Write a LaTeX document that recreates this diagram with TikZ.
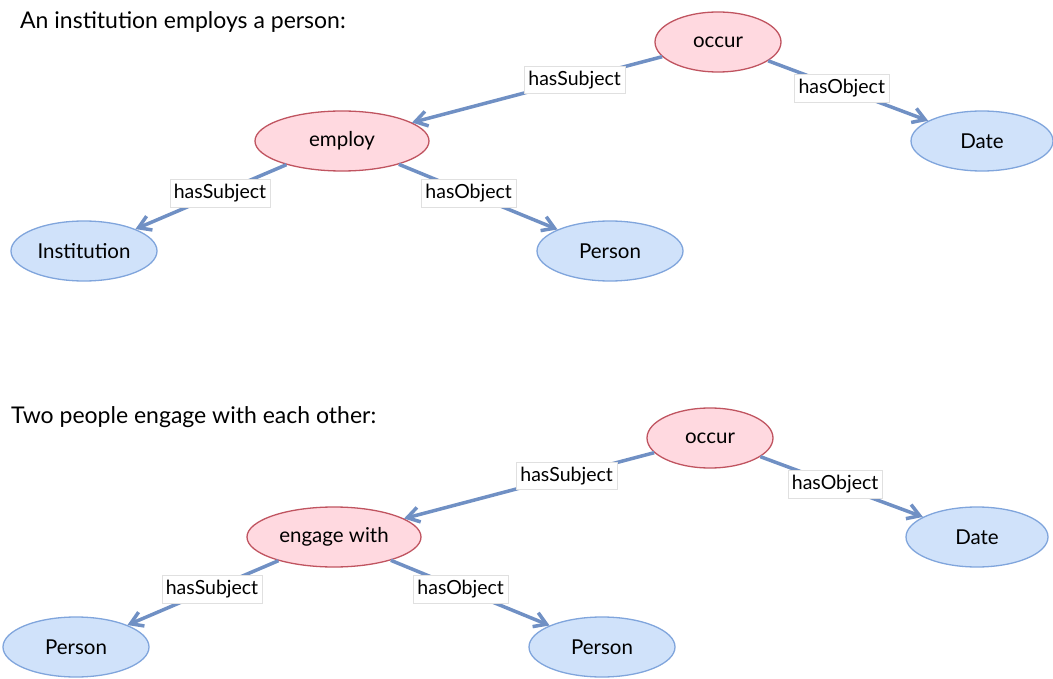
\documentclass[tikz,border=0pt]{standalone}
\usepackage{fontspec}
\setmainfont{Lato}
\usetikzlibrary{shapes.geometric,arrows.meta}
\definecolor{edgeblue}{RGB}{112,144,196}
\definecolor{relfill}{RGB}{255,217,224}
\definecolor{reldraw}{RGB}{192,84,96}
\definecolor{entfill}{RGB}{208,226,250}
\definecolor{entdraw}{RGB}{128,165,220}
\tikzset{
  relnode/.style={ellipse, draw=reldraw, fill=relfill, line width=1.3pt, inner sep=0pt,
    minimum height=60pt, font=\fontsize{20.5}{24}\selectfont},
  entnode/.style={ellipse, draw=entdraw, fill=entfill, line width=1.3pt, inner sep=0pt,
    minimum height=60pt, font=\fontsize{20.5}{24}\selectfont},
  link/.style={draw=edgeblue, line width=3.5pt, -{Straight Barb[length=12pt,width=15pt]}},
  lbl/.style={fill=white, draw=black!12, line width=0.5pt, inner xsep=4pt, inner ysep=5pt,
    font=\fontsize{19.5}{22}\selectfont},
  heading/.style={anchor=west, inner sep=0pt, font=\fontsize{23}{27}\selectfont}
}
\begin{document}
\begin{tikzpicture}[x=1pt,y=-1pt]
\useasboundingbox (0,0) rectangle (1053,679);

% first statement
\node[heading] (h1) at (20,22) {An institution employs a person:};
\node[relnode, minimum width=126pt] (occ1) at (718,42) {occur};
\node[relnode, minimum width=174pt] (emp) at (342,141) {employ};
\node[entnode, minimum width=142pt] (date1) at (982,141) {Date};
\node[entnode, minimum width=146pt] (inst) at (84,251) {Institution};
\node[entnode, minimum width=146pt] (pers1) at (610,251) {Person};

\draw[link] (occ1) -- node[lbl, pos=0.35] {hasSubject} (emp);
\draw[link] (occ1) -- node[lbl, pos=0.46] {hasObject} (date1);
\draw[link] (emp) -- node[lbl, pos=0.44] {hasSubject} (inst);
\draw[link] (emp) -- node[lbl, pos=0.44] {hasObject} (pers1);

% second statement
\node[heading] (h2) at (11,417) {Two people engage with each other:};
\node[relnode, minimum width=126pt] (occ2) at (710,438) {occur};
\node[relnode, minimum width=174pt] (eng) at (334,537) {engage with};
\node[entnode, minimum width=142pt] (date2) at (977,537) {Date};
\node[entnode, minimum width=146pt] (pers2) at (76,647) {Person};
\node[entnode, minimum width=146pt] (pers3) at (602,647) {Person};

\draw[link] (occ2) -- node[lbl, pos=0.35] {hasSubject} (eng);
\draw[link] (occ2) -- node[lbl, pos=0.46] {hasObject} (date2);
\draw[link] (eng) -- node[lbl, pos=0.44] {hasSubject} (pers2);
\draw[link] (eng) -- node[lbl, pos=0.44] {hasObject} (pers3);
\end{tikzpicture}
\end{document}
